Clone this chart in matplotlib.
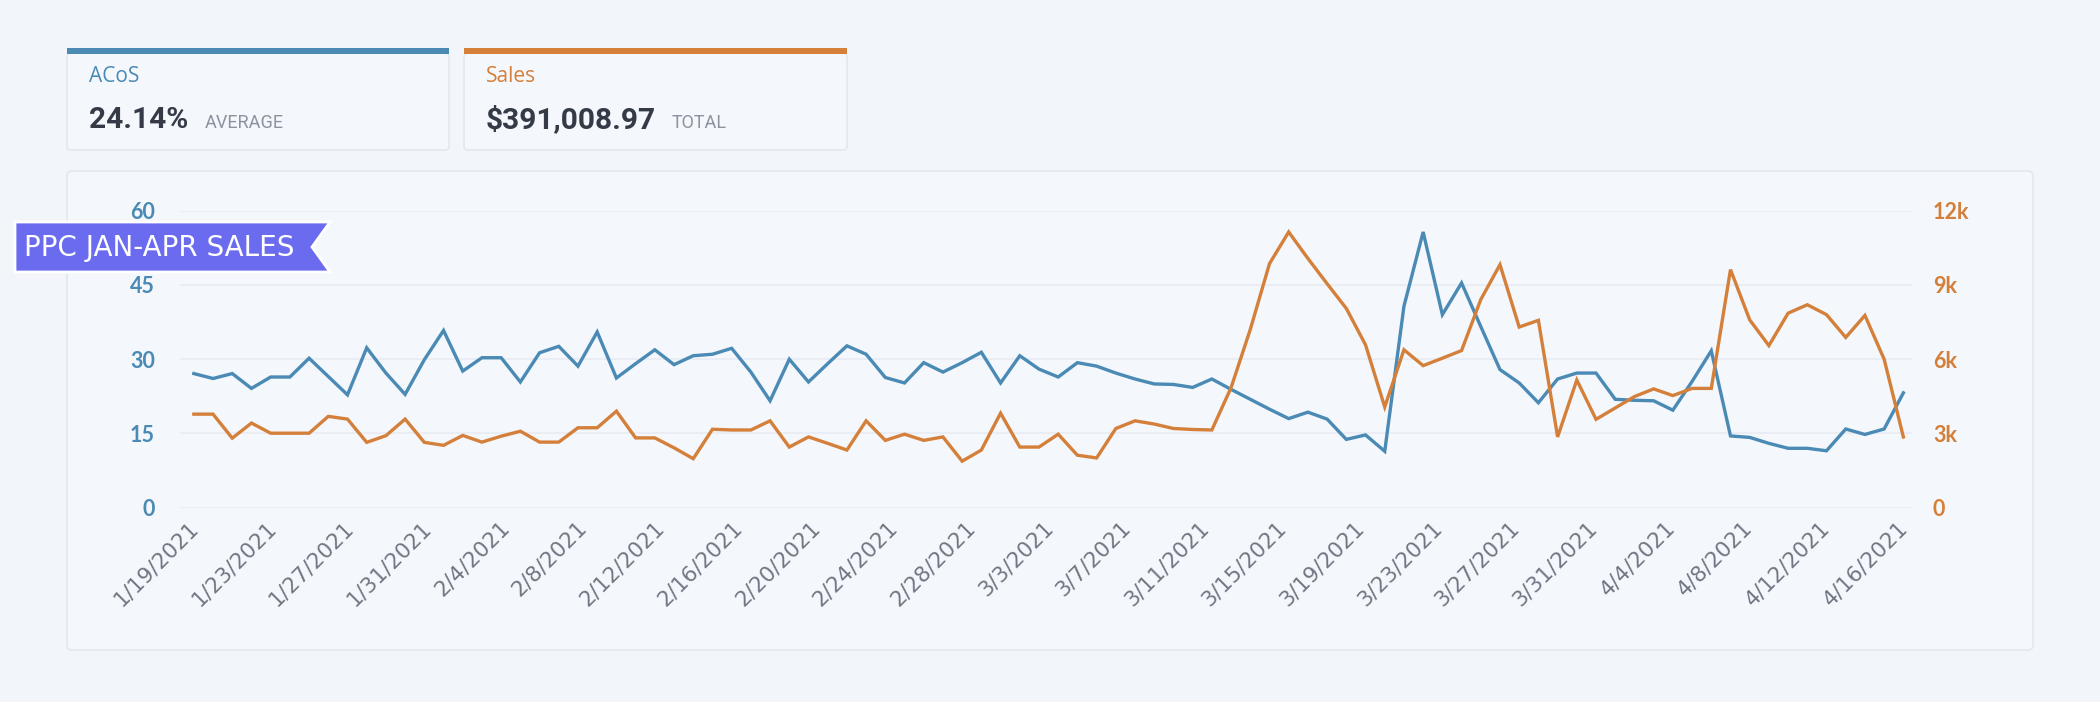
import matplotlib
matplotlib.use('Agg')
import matplotlib.pyplot as plt
from matplotlib.patches import FancyBboxPatch, Rectangle, Polygon
from matplotlib.ticker import FixedLocator, FuncFormatter
import matplotlib.transforms as mtransforms
import numpy as np

# ---------------- data ----------------
acos = [27.1, 26.1, 27.1, 24.1, 26.4, 26.4, 30.2, 26.5, 22.8, 32.3,
        27.2, 22.9, 29.9, 35.8, 27.6, 30.3, 30.3, 25.4, 31.3, 32.6,
        28.6, 35.5, 26.2, 29.1, 31.9, 28.9, 30.7, 31.0, 32.2, 27.4,
        21.6, 30.0, 25.4, 29.1, 32.7, 31.0, 26.3, 25.2, 29.3, 27.4,
        29.3, 31.4, 25.2, 30.7, 28.0, 26.4, 29.3, 28.6, 27.2, 26.0,
        25.0, 24.9, 24.3, 26.0, 23.9, 21.9, 19.9, 18.0, 19.3, 17.9,
        13.8, 14.7, 11.4, 40.7, 55.7, 39.0, 45.4, 36.6, 27.9, 25.2,
        21.2, 26.0, 27.2, 27.2, 21.9, 21.7, 21.6, 19.7, 25.5, 31.7,
        14.5, 14.2, 13.0, 12.0, 12.0, 11.5, 15.9, 14.8, 15.9, 23.2]

sales = [3780, 3780, 2810, 3420, 3010, 3010, 3010, 3690, 3580, 2640,
         2910, 3580, 2640, 2520, 2920, 2650, 2890, 3090, 2650, 2650,
         3230, 3230, 3900, 2820, 2820, 2420, 1980, 3170, 3140, 3140,
         3510, 2450, 2860, 2600, 2330, 3510, 2720, 2970, 2720, 2860,
         1880, 2330, 3820, 2450, 2450, 2970, 2120, 2010, 3200, 3510,
         3380, 3200, 3160, 3140, 4850, 7200, 9860, 11140, 10070, 9050,
         8050, 6580, 4070, 6380, 5740, 6040, 6350, 8410, 9820, 7300,
         7570, 2860, 5160, 3570, 4030, 4490, 4800, 4530, 4820, 4820,
         9620, 7590, 6550, 7860, 8200, 7800, 6880, 7770, 6000, 2860]

tick_labels = ['1/19/2021', '1/23/2021', '1/27/2021', '1/31/2021', '2/4/2021',
               '2/8/2021', '2/12/2021', '2/16/2021', '2/20/2021', '2/24/2021',
               '2/28/2021', '3/3/2021', '3/7/2021', '3/11/2021', '3/15/2021',
               '3/19/2021', '3/23/2021', '3/27/2021', '3/31/2021', '4/4/2021',
               '4/8/2021', '4/12/2021', '4/16/2021']

acos_ticks = [0, 15, 30, 45, 60]
sales_ticks = [0, 3000, 6000, 9000, 12000]

kpi_acos_value = '24.14%'
kpi_acos_suffix = 'AVERAGE'
kpi_sales_value = '$391,008.97'
kpi_sales_suffix = 'TOTAL'
banner_text = 'PPC JAN-APR SALES'

# ---------------- style ----------------
BLUE = '#4A8AB4'
ORANGE = '#D4803A'
PAGE = '#F2F5FA'
CARD = '#F4F7FC'
EDGE = '#E3E8EF'
GRID = '#E9EDF3'

W, H = 2100, 702
fig = plt.figure(figsize=(W / 100, H / 100), dpi=100)
fig.patch.set_facecolor(PAGE)

# background layer (pixel coordinates, y down)
bg = fig.add_axes([0, 0, 1, 1], zorder=0)
bg.set_xlim(0, W)
bg.set_ylim(H, 0)
bg.axis('off')

# chart card
bg.add_patch(FancyBboxPatch((67, 171), 1966, 479,
                            boxstyle='round,pad=0,rounding_size=5',
                            fc=CARD, ec=EDGE, lw=1.2))

# KPI cards
cards = [(67, 382, BLUE, 'ACoS', kpi_acos_value, kpi_acos_suffix, 205),
         (464, 383, ORANGE, 'Sales', kpi_sales_value, kpi_sales_suffix, 672)]
for x0, w, col, title, val, suf, sx in cards:
    bg.add_patch(FancyBboxPatch((x0, 53), w, 97,
                                boxstyle='round,pad=0,rounding_size=4',
                                fc=CARD, ec=EDGE, lw=1.2))
    bg.add_patch(Rectangle((x0, 48), w, 5.5, fc=col, ec='none'))
    bg.text(x0 + 22, 77, title, color=col, fontsize=15, family='Open Sans',
            va='center', ha='left')
    bg.text(x0 + 22, 128, val, color='#343B47', fontsize=21.5, family='Roboto',
            fontweight='bold', va='baseline', ha='left')
    bg.text(sx, 128, suf, color='#8C939F', fontsize=13, family='Roboto',
            va='baseline', ha='left')

# ---------------- main chart ----------------
left = 180 / W
right = 1912 / W
bottom = 1 - 507.7 / H
top = 1 - 210.7 / H
ax = fig.add_axes([left, bottom, right - left, top - bottom], zorder=1)
ax.patch.set_visible(False)
ax2 = ax.twinx()
ax2.patch.set_visible(False)

x = np.arange(len(acos))
ax.plot(x, acos, color=BLUE, lw=2.4, solid_joinstyle='miter', zorder=3)
ax2.plot(x, sales, color=ORANGE, lw=2.4, solid_joinstyle='miter', zorder=3)

ax.set_xlim(-0.72, len(acos) - 1 + 0.45)
ax.set_ylim(0, 60)
ax2.set_ylim(0, 12000)

ax.yaxis.set_major_locator(FixedLocator(acos_ticks))
ax2.yaxis.set_major_locator(FixedLocator(sales_ticks))
ax2.yaxis.set_major_formatter(FuncFormatter(lambda v, p: '0' if v == 0 else f'{int(v / 1000)}k'))

for t in acos_ticks:
    ax.axhline(t, color=GRID, lw=1.3, zorder=1)

tick_pos = np.linspace(0, len(acos) - 1, len(tick_labels))
ax.set_xticks(tick_pos)
ax.set_xticklabels(tick_labels, rotation=45, ha='right', va='top',
                   rotation_mode='anchor', fontsize=15.5, color='#707782',
                   family='DejaVu Sans')
ax.tick_params(axis='x', length=0, pad=7)
shift = mtransforms.ScaledTranslation(-4 / 72, 0, fig.dpi_scale_trans)
for lab in ax.get_xticklabels():
    lab.set_transform(lab.get_transform() + shift)
ax.tick_params(axis='y', length=0, pad=18, labelsize=15.5, labelcolor=BLUE)
ax2.tick_params(axis='y', length=0, pad=15, labelsize=15.5, labelcolor=ORANGE)
for lab in ax.get_yticklabels() + ax2.get_yticklabels():
    lab.set_family('Lato')
    lab.set_fontweight('bold')

for a in (ax, ax2):
    for s in a.spines.values():
        s.set_visible(False)

# ---------------- banner ----------------
ov = fig.add_axes([0, 0, 1, 1], zorder=5)
ov.set_xlim(0, W)
ov.set_ylim(H, 0)
ov.axis('off')
ov.patch.set_visible(False)
ov.add_patch(Polygon([(15, 222), (330, 222), (312, 247), (330, 272), (15, 272)],
                     closed=True, fc='#6B6BEF', ec='white', lw=2))
ov.text(24, 248, banner_text, color='white', fontsize=20, family='DejaVu Sans',
        va='center', ha='left')

fig.savefig('out.png', dpi=100, facecolor=fig.get_facecolor())
